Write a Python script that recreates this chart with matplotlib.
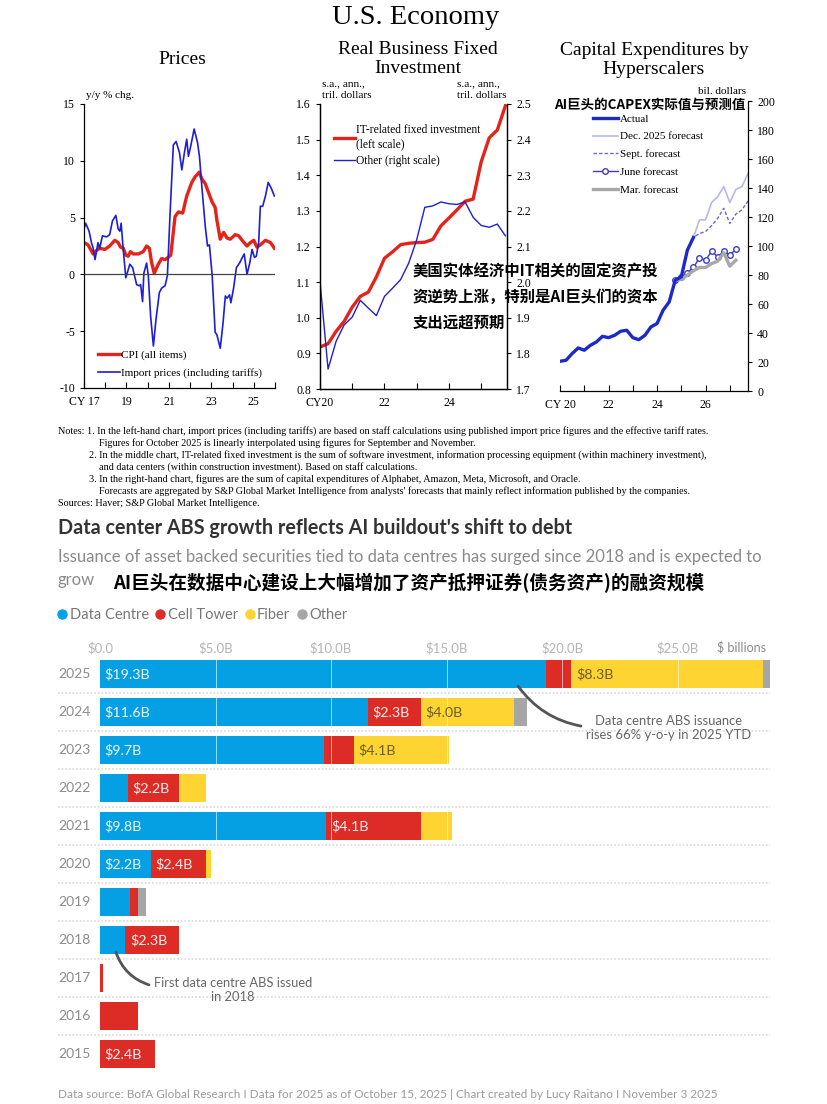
import matplotlib
matplotlib.use("Agg")
import matplotlib.pyplot as plt
from matplotlib import font_manager
from matplotlib.lines import Line2D
import numpy as np

W, H = 828, 1104

# ---------- Prices, y/y % chg.
cpi_t = [2017.00, 2017.19, 2017.43, 2017.58, 2017.74, 2017.98, 2018.21, 2018.45, 2018.61, 2018.72,
         2018.85, 2018.97, 2019.08, 2019.19, 2019.32, 2019.56, 2019.79, 2019.95, 2020.08, 2020.19,
         2020.31, 2020.50, 2020.66, 2020.82, 2020.97, 2021.09, 2021.29, 2021.45, 2021.65, 2021.84,
         2022.08, 2022.24, 2022.43, 2022.55, 2022.71, 2022.87, 2023.03, 2023.18, 2023.26, 2023.42,
         2023.58, 2023.74, 2023.89, 2024.13, 2024.29, 2024.45, 2024.68, 2024.84, 2025.00, 2025.15,
         2025.31, 2025.55, 2025.79, 2025.97]
cpi = [2.8, 2.6, 1.8, 2.1, 2.3, 2.2, 2.5, 3.0, 2.8, 2.4,
       2.3, 1.7, 1.6, 2.0, 1.8, 1.8, 2.0, 2.5, 2.3, 1.0,
       0.1, 0.9, 1.4, 1.3, 1.5, 1.7, 5.1, 5.5, 5.4, 6.9,
       8.1, 8.6, 9.0, 8.4, 8.0, 7.2, 6.4, 5.9, 4.8, 3.1,
       3.7, 3.2, 3.1, 3.5, 3.4, 3.0, 2.5, 2.8, 3.0, 2.4,
       2.6, 3.0, 2.8, 2.3]
imp_t = [2017.00, 2017.08, 2017.24, 2017.35, 2017.42, 2017.52, 2017.66, 2017.74, 2017.87, 2018.06,
         2018.21, 2018.34, 2018.50, 2018.61, 2018.69, 2018.75, 2018.85, 2018.97, 2019.16, 2019.29,
         2019.48, 2019.60, 2019.67, 2019.76, 2019.82, 2019.95, 2020.03, 2020.14, 2020.27, 2020.39,
         2020.55, 2020.66, 2020.82, 2020.93, 2021.05, 2021.21, 2021.34, 2021.50, 2021.61, 2021.73,
         2021.84, 2021.92, 2022.03, 2022.19, 2022.35, 2022.44, 2022.55, 2022.71, 2022.82, 2022.91,
         2023.04, 2023.18, 2023.26, 2023.42, 2023.55, 2023.66, 2023.74, 2023.86, 2023.92, 2024.05,
         2024.18, 2024.33, 2024.49, 2024.55, 2024.68, 2024.81, 2024.92, 2025.03, 2025.12, 2025.23,
         2025.31, 2025.42, 2025.55, 2025.68, 2025.82, 2025.97]
imp = [4.0, 4.5, 3.8, 2.8, 2.4, 1.3, 2.8, 2.3, 3.4, 3.3,
       3.5, 4.7, 5.2, 4.0, 3.8, 4.5, 2.2, -0.3, 0.9, 0.6,
       -0.9, -1.0, -0.9, -2.4, 0.1, 1.0, -0.1, -3.7, -6.3, -4.0,
       -1.6, -1.2, -1.0, -0.1, 5.1, 11.4, 11.7, 10.7, 9.2, 10.7,
       11.9, 10.4, 11.3, 12.8, 11.6, 10.4, 7.8, 4.3, 2.5, 2.6,
       -0.1, -5.1, -5.3, -6.5, -4.3, -1.9, -2.1, -1.8, -2.5, -1.2,
       0.6, 1.0, 1.6, 1.8, 0.0, 1.0, 2.2, 1.5, 1.6, 2.8,
       6.0, 6.0, 6.9, 8.1, 7.6, 6.9]

# ---------- Real business fixed investment, quarterly from 2020Q1 (tril. dollars)
it_inv = [0.918, 0.927, 0.962, 0.990, 1.030, 1.060, 1.072, 1.115, 1.167, 1.185, 1.205, 1.209,
          1.211, 1.212, 1.220, 1.258, 1.280, 1.303, 1.327, 1.333, 1.438, 1.505, 1.527, 1.595]
other_inv = [2.002, 1.756, 1.834, 1.880, 1.902, 1.949, 1.927, 1.906, 1.960, 1.983, 2.007, 2.053,
             2.119, 2.210, 2.214, 2.225, 2.220, 2.218, 2.225, 2.182, 2.159, 2.154, 2.163, 2.130]

# ---------- Hyperscaler capex, quarterly (bil. dollars)
actual = [20.5, 21.2, 25.8, 29.7, 28.1, 31.5, 33.8, 37.7, 36.8, 38.4, 41.2, 41.9,
          36.8, 35.4, 38.4, 44.2, 46.5, 55.7, 61.4, 76.4, 78.7, 97.1, 105.9]
dec_fc = [105.9, 118, 118, 130, 134, 141, 130, 139, 141, 150]          # from 2025Q3
sept_fc = [97.1, 106, 108.6, 110, 114, 119, 126, 115.5, 122, 125, 131]  # from 2025Q2
june_fc = [76.4, 78.7, 81.5, 85.2, 91.8, 90.2, 96.4, 92.5, 96.4, 93.7, 97.8]  # from 2024Q4
mar_fc = [76.4, 76.9, 79.9, 82.9, 85.2, 85.2, 87.9, 89.5, 95.3, 86.1, 90.2]   # from 2024Q4

# ---------- ABS issuance ($ billions)
abs_years = [2025, 2024, 2023, 2022, 2021, 2020, 2019, 2018, 2017, 2016, 2015]
data_centre = [19.3, 11.6, 9.7, 1.2, 9.8, 2.2, 1.3, 1.1, 0, 0, 0]
cell_tower = [1.1, 2.3, 1.3, 2.2, 4.1, 2.4, 0.35, 2.3, 0.15, 1.65, 2.4]
fiber = [8.3, 4.0, 4.1, 1.2, 1.35, 0.2, 0, 0, 0, 0, 0]
other = [0.3, 0.6, 0, 0, 0, 0, 0.35, 0, 0, 0, 0]
abs_ticks = [0, 5, 10, 15, 20, 25]
abs_ticklabels = ["$0.0", "$5.0B", "$10.0B", "$15.0B", "$20.0B", "$25.0B"]


def q(start, n):
    return start + 0.25 * np.arange(n)


names = {f.name for f in font_manager.fontManager.ttflist}
SERIF = "Liberation Serif"
NARROW = "Liberation Sans Narrow" if "Liberation Sans Narrow" in names else "Lato"
CJK = ["Noto Sans CJK SC", "DejaVu Sans"]

plt.rcParams["font.family"] = SERIF
plt.rcParams["axes.linewidth"] = 0.9
plt.rcParams["axes.unicode_minus"] = False

fig = plt.figure(figsize=(W / 100, H / 100), dpi=100)
fig.patch.set_facecolor("white")


def ftext(x, y, s, **kw):
    return fig.text(x / W, 1 - y / H, s, **kw)


def rect(x0, y0, x1, y1):
    return [x0 / W, 1 - y1 / H, (x1 - x0) / W, (y1 - y0) / H]


RED = "#e3241b"
BLUE = "#1f1fd1"

ftext(416, 17, "U.S. Economy", ha="center", va="center", size=20.5)

# ----- Prices
ax1 = fig.add_axes(rect(84, 104, 275, 388))
ax1.plot(cpi_t, cpi, color=RED, lw=2.4, label="CPI (all items)")
ax1.plot(imp_t, imp, color=BLUE, lw=1.2, label="Import prices (including tariffs)")
ax1.axhline(0, color="#444", lw=0.9)
ax1.set_xlim(2017, 2026)
ax1.set_ylim(-10, 15)
ax1.set_yticks(range(-10, 16, 5))
ax1.set_xticks(range(2017, 2027), ["CY 17", "", "19", "", "21", "", "23", "", "25", ""])
for s in ["top", "right"]:
    ax1.spines[s].set_visible(False)
ax1.tick_params(axis="x", direction="in", length=4, labelsize=8.5, pad=6)
ax1.tick_params(axis="y", direction="out", length=3, labelsize=8.5)
ax1.legend(loc="lower left", bbox_to_anchor=(0.02, 0.0), frameon=False, fontsize=8,
           handlelength=2.0, handletextpad=0.1, labelspacing=0.7)
ftext(182, 60, "Prices", ha="center", va="center", size=14)
ftext(86, 96, "y/y % chg.", ha="left", va="center", size=8)

# ----- Real business fixed investment
ax2 = fig.add_axes(rect(320, 104, 507, 389))
t2 = q(2020.0, len(it_inv))
l1, = ax2.plot(t2, it_inv, color=RED, lw=2.4)
ax2b = ax2.twinx()
l2, = ax2b.plot(t2, other_inv, color=BLUE, lw=1.0)
ax2.set_xlim(2020, 2025.8)
ax2.set_ylim(0.8, 1.6)
ax2b.set_ylim(1.7, 2.5)
ax2.set_yticks(np.arange(0.8, 1.61, 0.1), [f"{v:.1f}" for v in np.arange(0.8, 1.61, 0.1)])
ax2b.set_yticks(np.arange(1.7, 2.51, 0.1), [f"{v:.1f}" for v in np.arange(1.7, 2.51, 0.1)])
ax2.set_xticks(range(2020, 2026), ["CY20", "", "22", "", "24", ""])
for a in (ax2, ax2b):
    a.spines["top"].set_visible(False)
ax2.tick_params(axis="x", direction="in", length=4, labelsize=8.5, pad=6)
ax2.tick_params(axis="y", direction="out", length=3, labelsize=8.5)
ax2b.tick_params(axis="y", direction="out", length=3, labelsize=8.5)
ax2b.legend([l1, l2], ["IT-related fixed investment\n(left scale)", "Other (right scale)"],
            loc="upper left", bbox_to_anchor=(0.022, 0.965), frameon=False, fontsize=8.3,
            handlelength=1.8, handletextpad=0.05, labelspacing=0.45)
ftext(418, 59, "Real Business Fixed\nInvestment", ha="center", va="center", size=14,
      linespacing=1.15)
ftext(322, 89.5, "s.a., ann.,\ntril. dollars", ha="left", va="center", size=8.2, linespacing=1.35)
ftext(457, 89.5, "s.a., ann.,\ntril. dollars", ha="left", va="center", size=8.2, linespacing=1.35)

# ----- Hyperscaler capex
ax3 = fig.add_axes(rect(560, 101, 748, 391))
ax3.plot(q(2020.0, len(actual)), actual, color="#1c2bc8", lw=2.4, label="Actual", zorder=5)
ax3.plot(q(2025.5, len(dec_fc)), dec_fc, color="#b8b8ee", lw=1.2, label="Dec. 2025 forecast")
ax3.plot(q(2025.25, len(sept_fc)), sept_fc, color="#6a6ad6", lw=1.0, ls=(0, (2.5, 1.5)),
         label="Sept. forecast")
ax3.plot(q(2024.75, len(june_fc)), june_fc, color="#3c3cc8", lw=1.0, marker="o", ms=4,
         mfc="white", mew=1.0, label="June forecast")
ax3.plot(q(2024.75, len(mar_fc)), mar_fc, color="#a8a8a8", lw=2.4, label="Mar. forecast")
ax3.set_xlim(2020, 2027.75)
ax3.set_ylim(0, 200)
ax3.yaxis.tick_right()
ax3.set_yticks(range(0, 201, 20))
ax3.set_xticks(range(2020, 2028), ["CY 20", "", "22", "", "24", "", "26", ""])
for s in ["top", "left"]:
    ax3.spines[s].set_visible(False)
ax3.tick_params(axis="x", direction="in", length=4, labelsize=8.5, pad=6)
ax3.tick_params(axis="y", direction="out", length=3, labelsize=8.5)
ax3.legend(loc="upper left", bbox_to_anchor=(0.122, 0.99), frameon=False, fontsize=8,
           handlelength=2.25, handletextpad=0.2, labelspacing=0.72)
ftext(654, 60, "Capital Expenditures by\nHyperscalers", ha="center", va="center", size=14,
      linespacing=1.15)
ftext(746, 92, "bil. dollars", ha="right", va="center", size=8)

# ----- overlays
ftext(745, 105, "AI巨头的CAPEX实际值与预测值", ha="right", va="center", size=9.7,
      family=CJK, weight="bold")
ftext(413, 297, "美国实体经济中IT相关的固定资产投\n资逆势上涨，特别是AI巨头们的资本\n支出远超预期",
      ha="left", va="center", size=11.1, family=CJK, weight="bold", linespacing=1.75)

# ----- notes
notes = [
    (58, "Notes: 1. In the left-hand chart, import prices (including tariffs) are based on staff calculations using published import price figures and the effective tariff rates."),
    (99, "Figures for October 2025 is linearly interpolated using figures for September and November."),
    (89, "2. In the middle chart, IT-related fixed investment is the sum of software investment, information processing equipment (within machinery investment),"),
    (99, "and data centers (within construction investment). Based on staff calculations."),
    (89, "3. In the right-hand chart, figures are the sum of capital expenditures of Alphabet, Amazon, Meta, Microsoft, and Oracle."),
    (99, "Forecasts are aggregated by S&P Global Market Intelligence from analysts' forecasts that mainly reflect information published by the companies."),
    (58, "Sources: Haver; S&P Global Market Intelligence."),
]
for i, (x, s) in enumerate(notes):
    ftext(x, 431 + 12.1 * i, s, ha="left", va="center", size=7.3)

# ----- ABS chart
ftext(58, 528, "Data center ABS growth reflects AI buildout's shift to debt", ha="left",
      va="center", size=14.2, family=NARROW, weight="bold", color="#333333")
ftext(58, 557, "Issuance of asset backed securities tied to data centres has surged since 2018 and is expected to",
      ha="left", va="center", size=12, family=NARROW, color="#8a8a8a")
ftext(58, 580, "grow", ha="left", va="center", size=12, family=NARROW, color="#8a8a8a")
ftext(113, 583, "AI巨头在数据中心建设上大幅增加了资产抵押证券(债务资产)的融资规模", ha="left",
      va="center", size=13.4, family=CJK, weight="bold")

COLS = ["#05a0e4", "#dd2c25", "#fdd431", "#a6a6a6"]
SER_NAMES = ["Data Centre", "Cell Tower", "Fiber", "Other"]
handles = [Line2D([], [], ls="", marker="o", ms=6.5, color=c) for c in COLS]
fig.legend(handles, SER_NAMES, loc="center left", bbox_to_anchor=(42 / W, 1 - 615 / H),
           frameon=False, ncol=4, handletextpad=0.0, columnspacing=0.3, handlelength=1.0,
           prop={"family": NARROW, "size": 10.5}, labelcolor="#777777")

ax4 = fig.add_axes(rect(100, 655, 775, 1073))
ypos = np.arange(len(abs_years))
left = np.zeros(len(abs_years))
txtcols = ["#eef6ff", "#fff0f0", "#6e5f22", "#ffffff"]
for vals, col, tc in zip([data_centre, cell_tower, fiber, other], COLS, txtcols):
    vals = np.array(vals, dtype=float)
    ax4.barh(ypos, vals, left=left, height=0.74, color=col, zorder=2)
    for i, v in enumerate(vals):
        if v >= 2:
            ax4.text(left[i] + 0.2, i, f"${v:.1f}B", ha="left", va="center", color=tc,
                     family=NARROW, size=10.3, zorder=4)
    left += vals
ax4.vlines(abs_ticks[1:], -0.5, 10.5, color="white", lw=0.7, alpha=0.6, zorder=3)
ax4.hlines(ypos[:-1] + 0.5, -1.82, 29.0, colors="#dedede", linestyles=(0, (1, 1)), lw=1.3,
           clip_on=False)
for i, yr in enumerate(abs_years):
    ax4.text(-1.82, i, str(yr), ha="left", va="center", family=NARROW, size=10, color="#8c8c8c")
ax4.set_xlim(0, 29.22)
ax4.set_ylim(10.5, -0.5)
ax4.set_yticks([])
ax4.xaxis.tick_top()
ax4.set_xticks(abs_ticks, abs_ticklabels)
ax4.tick_params(axis="x", length=0, pad=0.5, labelcolor="#b5b5b5", labelsize=9.5)
for lab in ax4.get_xticklabels():
    lab.set_family(NARROW)
for s in ax4.spines.values():
    s.set_visible(False)
ftext(742, 647, "$ billions", ha="center", va="center", family=NARROW, size=9, color="#8a8a8a")

arc = dict(arrowstyle="-", color="#555555", lw=2, shrinkA=0, shrinkB=0)
ax4.annotate("", xy=(20.82, 1.37), xytext=(18.1, 0.32),
             arrowprops=dict(arc, connectionstyle="arc3,rad=0.2"))
ax4.text(24.6, 1.42, "Data centre ABS issuance\nrises 66% y-o-y in 2025 YTD", ha="center",
         va="center", family=NARROW, size=9.4, color="#666666", linespacing=1.25)
ax4.annotate("", xy=(2.12, 8.18), xytext=(0.69, 7.32),
             arrowprops=dict(arc, connectionstyle="arc3,rad=0.25"))
ax4.text(5.76, 8.32, "First data centre ABS issued\nin 2018", ha="center", va="center",
         family=NARROW, size=9.3, color="#666666", linespacing=1.25)

ftext(58, 1095, "Data source: BofA Global Research I Data for 2025 as of October 15, 2025 | Chart created by Lucy Raitano I November 3 2025",
      ha="left", va="center", family=NARROW, size=8.5, color="#9a9a9a")

fig.savefig("out.png", dpi=100, facecolor="white")
